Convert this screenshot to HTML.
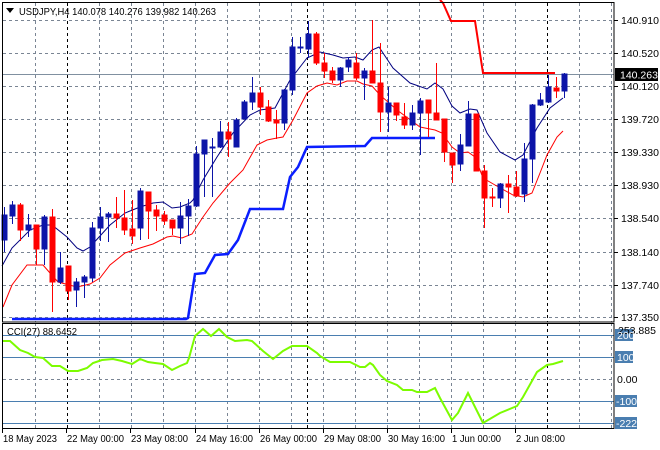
<!DOCTYPE html>
<html><head><meta charset="utf-8"><style>
html,body{margin:0;padding:0;background:#fff;}
svg{display:block;font-family:"Liberation Sans",sans-serif;font-size:10.5px;}
</style></head><body>
<svg width="660" height="450" viewBox="0 0 660 450" xmlns="http://www.w3.org/2000/svg">
<rect width="660" height="450" fill="#fff"/>
<g stroke="#7a8594" stroke-width="1" stroke-dasharray="3,3" fill="none">
<path d="M3 20.5H614M3 53.5H614M3 86.5H614M3 119.5H614M3 152.5H614M3 185.5H614M3 218.5H614M3 252.5H614M3 285.5H614M3 317.5H614"/>
<path d="M35.5 3V322M99.5 3V322M131.5 3V322M163.5 3V322M195.5 3V322M227.5 3V322M259.5 3V322M291.5 3V322M323.5 3V322M355.5 3V322M387.5 3V322M419.5 3V322M451.5 3V322M483.5 3V322M515.5 3V322M579.5 3V322M611.5 3V322"/>
<path d="M35.5 323V428M99.5 323V428M131.5 323V428M163.5 323V428M195.5 323V428M227.5 323V428M259.5 323V428M291.5 323V428M323.5 323V428M355.5 323V428M387.5 323V428M419.5 323V428M451.5 323V428M483.5 323V428M515.5 323V428M579.5 323V428M611.5 323V428"/>
<path d="M3 379.5H614"/>
</g>
<g stroke="#000" stroke-width="1" stroke-dasharray="3,3">
<path d="M67.5 3V322M307.5 3V322M547.5 3V322M67.5 323V428M307.5 323V428M547.5 323V428"/>
</g>
<g stroke="#4a7eb0" stroke-width="1">
<path d="M3 335.5H614M3 357.5H614M3 401.5H614M3 423.5H614"/>
</g>
<path d="M3 74.5H614" stroke="#8090a0" stroke-width="1"/>
<polyline fill="none" stroke="#0a1eff" stroke-width="2.5" points="12,319 186,319 188,318 195,274 205,273 215,255 228,254 238,240 250,209 283,209 290,177 298,167 307,147 365,146 372,138 435,138"/>
<polyline fill="none" stroke="#ff0000" stroke-width="2" points="440,0 443,3 451,21 475,21 483,73 555,73"/>
<polyline fill="none" stroke="#ff0000" stroke-width="1" points="3,307 12,285 27,265 43,265 50,273 58,282 77,287 90,284 100,278 110,265 125,253 140,248 153,244 167,237 173,236 182,238 192,234 203,217 213,203 230,183 243,170 257,145 267,140 277,138 283,137 293,120 307,93 317,86 327,83 337,85 347,81 357,81 363,84 372,86 380,95 397,110 420,127 435,130 442,133 452,147 460,153 468,152 475,157 483,178 495,185 513,195 523,197 532,193 540,173 547,155 557,137 563,131"/>
<polyline fill="none" stroke="#000080" stroke-width="1" points="2,266 12,248 30,230 43,225 52,225 67,237 77,248 83,251 90,247 100,236 110,225 125,213 140,207 153,203 163,202 172,208 180,207 190,203 193,200 203,180 217,157 233,133 250,115 260,110 275,108 290,80 307,58 320,52 333,55 343,58 355,57 363,60 372,50 379,47 393,68 410,83 427,89 435,83 443,89 452,106 460,113 470,109 477,110 487,133 500,152 515,160 523,155 537,128 550,108 563,98"/>
<g stroke-width="1">
<g stroke="#0c14a8" fill="#0c14a8">
<path d="M4.5 207V252M12.5 201V224M28.5 214V237M44.5 215V265M60.5 252V284M76.5 278V307M84.5 275V298M92.5 222V282M100.5 207V241M108.5 212V242M140.5 188V240M180.5 202V244M188.5 199V236M196.5 146V207M204.5 140V197M212.5 138V197M220.5 121V148M236.5 118V147M244.5 100V119M252.5 77V110M284.5 89V130M292.5 37V95M300.5 37V53M308.5 21V58M340.5 67V87M348.5 57V72M364.5 68V100M388.5 87V132M412.5 105V130M420.5 98V155M460.5 134V171M468.5 101V146M500.5 183V208M524.5 143V202M532.5 104V183M540.5 93V106M548.5 75V103M564.5 73V98"/>
<rect x="2" y="215" width="5" height="25"/><rect x="10" y="205" width="5" height="11"/><rect x="26" y="225" width="5" height="5"/><rect x="42" y="217" width="5" height="32"/><rect x="58" y="268" width="5" height="14"/><rect x="74" y="282" width="5" height="8"/><rect x="82" y="277" width="5" height="5"/><rect x="90" y="228" width="5" height="50"/><rect x="98" y="217" width="5" height="11"/><rect x="106" y="214" width="5" height="3"/><rect x="138" y="191" width="5" height="37"/><rect x="178" y="216" width="5" height="12"/><rect x="186" y="206" width="5" height="10"/><rect x="194" y="154" width="5" height="52"/><rect x="202" y="140" width="5" height="14"/><rect x="210" y="147" width="5" height="1"/><rect x="218" y="132" width="5" height="15"/><rect x="234" y="120" width="5" height="27"/><rect x="242" y="102" width="5" height="17"/><rect x="250" y="93" width="5" height="9"/><rect x="282" y="90" width="5" height="33"/><rect x="290" y="47" width="5" height="43"/><rect x="298" y="47" width="5" height="1"/><rect x="306" y="34" width="5" height="15"/><rect x="338" y="68" width="5" height="12"/><rect x="346" y="60" width="5" height="7"/><rect x="362" y="71" width="5" height="7"/><rect x="386" y="103" width="5" height="9"/><rect x="410" y="113" width="5" height="12"/><rect x="418" y="101" width="5" height="12"/><rect x="458" y="145" width="5" height="19"/><rect x="466" y="114" width="5" height="32"/><rect x="498" y="184" width="5" height="14"/><rect x="522" y="159" width="5" height="35"/><rect x="530" y="105" width="5" height="54"/><rect x="538" y="100" width="5" height="5"/><rect x="546" y="87" width="5" height="15"/><rect x="562" y="74" width="5" height="17"/>
</g>
<g stroke="#ff0000" fill="#ff0000">
<path d="M20.5 203V241M36.5 225V265M52.5 209V312M68.5 266V300M116.5 197V228M124.5 190V235M132.5 200V244M148.5 192V239M156.5 205V231M164.5 211V225M172.5 220V235M228.5 122V157M260.5 87V115M268.5 100V122M276.5 110V139M316.5 32V65M324.5 53V78M332.5 67V83M356.5 53V80M372.5 20V83M380.5 43V132M396.5 103V121M404.5 103V129M428.5 100V137M436.5 63V120M444.5 119V162M452.5 153V183M476.5 114V171M484.5 165V228M492.5 188V207M508.5 175V213M516.5 171V197M556.5 77V98"/>
<rect x="18" y="205" width="5" height="25"/><rect x="34" y="225" width="5" height="24"/><rect x="50" y="217" width="5" height="65"/><rect x="66" y="266" width="5" height="25"/><rect x="114" y="214" width="5" height="4"/><rect x="122" y="218" width="5" height="12"/><rect x="130" y="229" width="5" height="7"/><rect x="146" y="192" width="5" height="19"/><rect x="154" y="210" width="5" height="6"/><rect x="162" y="215" width="5" height="6"/><rect x="170" y="220" width="5" height="8"/><rect x="226" y="132" width="5" height="7"/><rect x="258" y="93" width="5" height="14"/><rect x="266" y="107" width="5" height="14"/><rect x="274" y="120" width="5" height="3"/><rect x="314" y="34" width="5" height="29"/><rect x="322" y="63" width="5" height="8"/><rect x="330" y="71" width="5" height="9"/><rect x="354" y="63" width="5" height="15"/><rect x="370" y="71" width="5" height="12"/><rect x="378" y="83" width="5" height="29"/><rect x="394" y="103" width="5" height="12"/><rect x="402" y="117" width="5" height="8"/><rect x="426" y="100" width="5" height="13"/><rect x="434" y="113" width="5" height="7"/><rect x="442" y="119" width="5" height="33"/><rect x="450" y="153" width="5" height="12"/><rect x="474" y="114" width="5" height="57"/><rect x="482" y="171" width="5" height="27"/><rect x="490" y="197" width="5" height="1"/><rect x="506" y="184" width="5" height="3"/><rect x="514" y="187" width="5" height="9"/><rect x="554" y="88" width="5" height="3"/>
</g>
</g>
<polyline fill="none" stroke="#7cfc00" stroke-width="2" points="3,341 10,341 20,350 28,353 35,357 43,358 52,366 60,366 68,371 78,371 87,368 93,363 102,360 113,359 122,361 132,364 140,359 148,362 155,363 163,364 172,370 180,366 187,363 189,358 195,336 203,329 211,336 219,329 227,337 235,341 247,340 252,341 263,351 273,359 283,351 292,346 307,346 317,353 320,356 330,362 350,362 360,367 365,367 370,363 373,365 380,375 387,381 397,385 403,390 412,390 417,392 427,392 435,388 440,398 452,420 458,413 468,393 483,423 500,413 517,406 523,397 537,372 547,365 553,364 563,361"/>
<g stroke="#000" stroke-width="1" fill="none">
<rect x="2.5" y="2.5" width="611.5" height="319.5"/>
<rect x="2.5" y="323.5" width="611.5" height="105"/>
</g>
<g stroke="#000" stroke-width="1">
<path d="M614 20.5h4M614 53.5h4M614 86.5h4M614 119.5h4M614 152.5h4M614 185.5h4M614 218.5h4M614 252.5h4M614 285.5h4M614 317.5h4"/>
<path d="M2.5 429v4M66.5 429v4M130.5 429v4M195.5 429v4M259.5 429v4M323.5 429v4M387.5 429v4M451.5 429v4M515.5 429v4"/>
</g>
<g fill="#000">
<text x="621" y="24">140.910</text><text x="621" y="57">140.520</text><text x="621" y="90">140.120</text><text x="621" y="123">139.720</text><text x="621" y="156">139.330</text><text x="621" y="189">138.930</text><text x="621" y="222">138.540</text><text x="621" y="256">138.140</text><text x="621" y="289">137.740</text><text x="621" y="321">137.350</text>
</g>
<rect x="615" y="68" width="43" height="13" fill="#000"/>
<text x="620" y="78.5" fill="#fff">140.263</text>
<rect x="615" y="329" width="18" height="12" fill="#4a7eb0"/>
<rect x="615" y="351" width="18" height="12" fill="#4a7eb0"/>
<rect x="615" y="395" width="22" height="12" fill="#4a7eb0"/>
<rect x="615" y="417" width="22" height="12" fill="#4a7eb0"/>
<text x="618" y="334" fill="#000">253.885</text>
<text x="617" y="339" fill="#fff">200</text>
<text x="617" y="361" fill="#fff">100</text>
<text x="617" y="383" fill="#000">0.00</text>
<text x="616" y="405" fill="#fff">-100</text>
<text x="616" y="427" fill="#fff">-222.8656</text>
<g fill="#000" font-size="10px">
<text x="3" y="442" textLength="54" lengthAdjust="spacingAndGlyphs">18 May 2023</text>
<text x="67" y="442" textLength="57" lengthAdjust="spacingAndGlyphs">22 May 00:00</text>
<text x="131" y="442" textLength="57" lengthAdjust="spacingAndGlyphs">23 May 08:00</text>
<text x="196" y="442" textLength="57" lengthAdjust="spacingAndGlyphs">24 May 16:00</text>
<text x="260" y="442" textLength="57" lengthAdjust="spacingAndGlyphs">26 May 00:00</text>
<text x="324" y="442" textLength="57" lengthAdjust="spacingAndGlyphs">29 May 08:00</text>
<text x="388" y="442" textLength="57" lengthAdjust="spacingAndGlyphs">30 May 16:00</text>
<text x="452" y="442" textLength="49" lengthAdjust="spacingAndGlyphs">1 Jun 00:00</text>
<text x="516" y="442" textLength="49" lengthAdjust="spacingAndGlyphs">2 Jun 08:00</text>
</g>
<path d="M6 8h8l-4 5z" fill="#000"/>
<text x="19" y="15" fill="#000" textLength="197" lengthAdjust="spacingAndGlyphs">USDJPY,H4  140.078 140.276 139.982 140.263</text>
<text x="7" y="335" fill="#000" textLength="70" lengthAdjust="spacingAndGlyphs">CCI(27) 88.6452</text>
</svg>
</body></html>
